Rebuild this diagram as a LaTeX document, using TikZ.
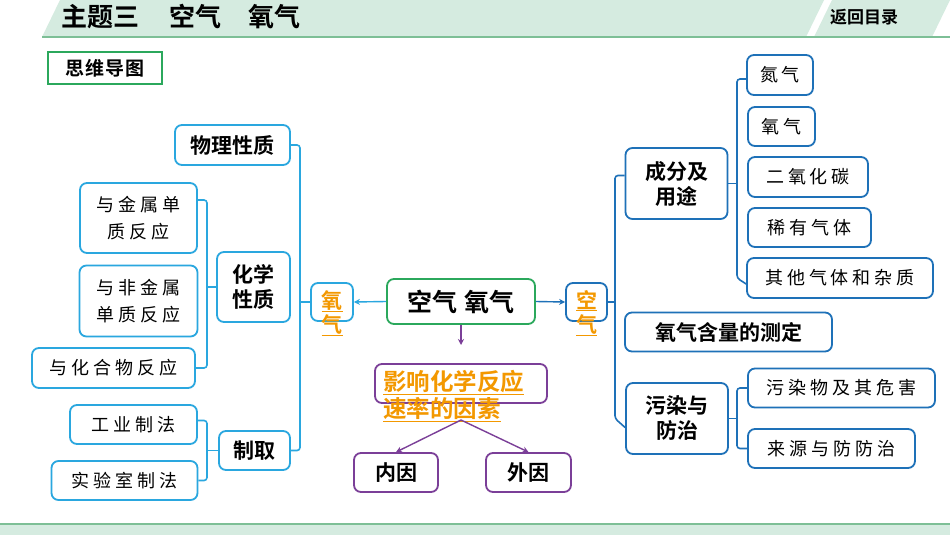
\documentclass[tikz,border=0pt]{standalone}
\usepackage{fontspec}
\setmainfont{Noto Sans CJK SC}
\newfontfamily\cjkb{Noto Sans CJK SC Bold}
\newfontfamily\cjkl[LetterSpace=22]{Noto Sans CJK SC}
\newfontfamily\cjkm[LetterSpace=6]{Noto Sans CJK SC Bold}
\usetikzlibrary{arrows.meta,calc}
\definecolor{lblue}{HTML}{2AA7DF}
\definecolor{dblue}{HTML}{1E71B8}
\definecolor{gbord}{HTML}{2BA85C}
\definecolor{hfill}{HTML}{D5EBE0}
\definecolor{hline}{HTML}{7DBF96}
\definecolor{purp}{HTML}{7B3F98}
\definecolor{orng}{HTML}{F39800}
\begin{document}
\begin{tikzpicture}[x=1pt,y=-1pt,
  box/.style={draw, line width=1.8pt, rounded corners=7pt, fill=white, inner sep=0pt, align=center, text=black},
  lbox/.style={box, draw=lblue},
  rbox/.style={box, draw=dblue},
  pbox/.style={box, draw=purp},
  bt/.style={font=\cjkb\fontsize{21pt}{25pt}\selectfont},
  lt/.style={font=\cjkl\fontsize{18pt}{27pt}\selectfont},
  ltree/.style={draw=lblue, line width=1.6pt, rounded corners=3pt},
  rtree/.style={draw=dblue, line width=1.6pt, rounded corners=3pt},
  otext/.style={text=orng, font=\cjkb\fontsize{21pt}{24pt}\selectfont, inner sep=0pt, align=center},
  arr/.style={line width=1.4pt, -{Stealth[length=6pt,width=6pt]}}
]
\useasboundingbox (0,0) rectangle (950,535);
\fill[white] (0,0) rectangle (950,535);
% header
\fill[hfill] (42,37) -- (60,0) -- (824,0) -- (806,37) -- cycle;
\fill[hfill] (814,37) -- (832,0) -- (950,0) -- (932,37) -- cycle;
\draw[hline, line width=2pt] (42,37.5) -- (950,37.5);
\node[anchor=west, inner sep=0pt, font=\cjkb\fontsize{26pt}{28pt}\selectfont] (title) at (61,17) {主题三\hspace{30pt}空气\hspace{27pt}氧气};
\node[inner sep=0pt, font=\cjkb\fontsize{17pt}{19pt}\selectfont] (back) at (864,17) {返回目录};
% footer
\fill[hfill] (0,524) rectangle (950,535);
\draw[hline, line width=2pt] (0,524) -- (950,524);
% mind map label
\node[draw=gbord, line width=1.2pt, minimum width=114pt, minimum height=32pt, inner sep=0pt, font=\cjkm\fontsize{19pt}{21pt}\selectfont] (swdt) at (105,68) {思维导图};
% left side nodes
\node[lbox, bt, minimum width=115pt, minimum height=40pt] (wl) at (232.5,145) {物理性质};
\node[lbox, bt, minimum width=73pt, minimum height=70pt] (hx) at (253.5,287) {化学\\性质};
\node[lbox, lt, minimum width=117pt, minimum height=70pt] (m1) at (138.5,218) {与金属单\\质反应};
\node[lbox, lt, minimum width=118pt, minimum height=71pt] (m2) at (138.5,301) {与非金属\\单质反应};
\node[lbox, lt, minimum width=163pt, minimum height=40pt] (m3) at (113.5,368) {与化合物反应};
\node[lbox, bt, minimum width=71pt, minimum height=39pt] (zq) at (254.5,450.5) {制取};
\node[lbox, lt, minimum width=127pt, minimum height=39pt] (g1) at (133.5,424.5) {工业制法};
\node[lbox, lt, minimum width=146pt, minimum height=39pt] (g2) at (124.5,480.5) {实验室制法};
\node[lbox, minimum width=42pt, minimum height=38pt] (oy) at (332,302) {};
\node[otext] (oyt) at (332,313) {\underline{氧}\\\underline{气}};
% center
\node[box, draw=gbord, font=\cjkb\fontsize{25pt}{28pt}\selectfont, minimum width=148pt, minimum height=45pt] (c) at (461,301.5) {空气\hspace{0.3em}氧气};
\node[rbox, minimum width=41pt, minimum height=38pt] (ky) at (586.5,302) {};
\node[otext] (kyt) at (586.5,313) {\underline{空}\\\underline{气}};
\node[pbox, minimum width=172pt, minimum height=39pt] (inf) at (461,383.5) {};
\node[otext, anchor=north west, align=left, font=\cjkb\fontsize{23.5pt}{27pt}\selectfont] (inft) at (383,370) {\underline{影响化学反应}\\\underline{速率的因素}};
\node[pbox, bt, minimum width=84pt, minimum height=39pt] (ny) at (396,472.5) {内因};
\node[pbox, bt, minimum width=85pt, minimum height=39pt] (wy) at (528.5,472.5) {外因};
% right side nodes
\node[rbox, bt, minimum width=102pt, minimum height=71pt] (cf) at (676.5,183.5) {成分及\\用途};
\node[rbox, lt, minimum width=66pt, minimum height=40pt] (r1) at (780,75) {氮气};
\node[rbox, lt, minimum width=67pt, minimum height=39pt] (r2) at (781.5,126.5) {氧气};
\node[rbox, lt, minimum width=120pt, minimum height=40pt] (r3) at (808,177) {二氧化碳};
\node[rbox, lt, minimum width=123pt, minimum height=39pt] (r4) at (809.5,227.5) {稀有气体};
\node[rbox, lt, minimum width=186pt, minimum height=40pt] (r5) at (840,278) {其他气体和杂质};
\node[rbox, bt, minimum width=207pt, minimum height=39pt] (yl) at (728.5,332) {氧气含量的测定};
\node[rbox, bt, minimum width=102pt, minimum height=71pt] (wr) at (677,418.5) {污染与\\防治};
\node[rbox, lt, minimum width=187pt, minimum height=39pt] (p1) at (841.5,388) {污染物及其危害};
\node[rbox, lt, minimum width=167pt, minimum height=39pt] (p2) at (831.5,448.5) {来源与防防治};
% tree coordinates
\coordinate (L1) at (300,0);
\coordinate (L2) at (207,0);
\coordinate (R1) at (615,0);
\coordinate (R2) at (737,0);
\coordinate (a1) at (461,345);
\coordinate (fork) at (461,420);
% left tree
\draw[ltree] (wl.east) -| (L1 |- zq.east) -- (zq.east);
\draw[ltree] (oy.west) -- (oy.west -| L1);
\draw[ltree] ([yshift=18pt]m1.east) -| (L2 |- m3.east) -- (m3.east);
\draw[ltree] (hx.west) -- (hx.west -| L2);
\draw[ltree] ([yshift=4pt]g1.east) -| (L2 |- g2.east) -- (g2.east);
\draw[ltree] (zq.west) -- (zq.west -| L2);
% right tree
\draw[rtree] ([yshift=8pt]cf.west) -| (R1 |- wr.west) -- ([yshift=-9pt]wr.west);
\draw[rtree] (ky.east) -- (ky.east -| R1);
\draw[rtree] ([yshift=-4pt]r1.west) -| (R2 |- r5.west) -- ([yshift=-6pt]r5.west);
\draw[rtree] (cf.east) -- (cf.east -| R2);
\draw[rtree] (p1.west) -| (R2 |- p2.west) -- (p2.west);
\draw[rtree] (wr.east) -- (wr.east -| R2);
% arrows
\draw[arr, lblue] (c.west) -- (oy.east);
\draw[arr, dblue] (c.east) -- (ky.west);
\draw[arr, purp] (c.south) -- (a1);
\draw[arr, purp] (fork) -- (ny.north);
\draw[arr, purp] (fork) -- (wy.north);
\end{tikzpicture}
\end{document}
